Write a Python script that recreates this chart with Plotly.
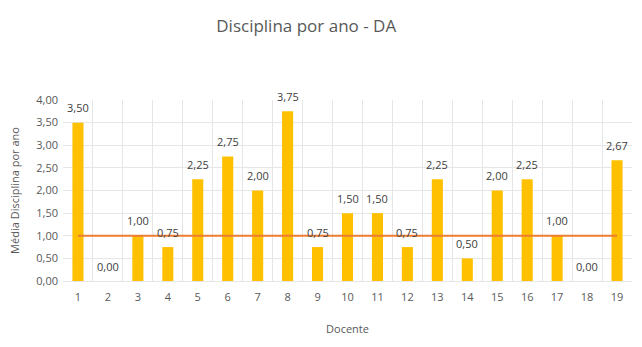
import plotly.graph_objects as go

docentes = list(range(1, 20))
valores = [3.50, 0.00, 1.00, 0.75, 2.25, 2.75, 2.00, 3.75, 0.75, 1.50,
           1.50, 0.75, 2.25, 0.50, 2.00, 2.25, 1.00, 0.00, 2.67]
referencia = [1.0] * len(docentes)

font_fam = "Open Sans, Liberation Sans, sans-serif"

fig = go.Figure()
fig.add_trace(go.Bar(
    x=docentes, y=valores, width=0.37,
    marker=dict(color="#FFC000", line=dict(width=0)),
    showlegend=False,
))
fig.add_trace(go.Scatter(
    x=docentes, y=referencia, mode="lines",
    line=dict(color="#ED7D31", width=2), showlegend=False,
))

for d, v in zip(docentes, valores):
    fig.add_annotation(
        x=d, y=v, text=f"{v:.2f}".replace(".", ","), showarrow=False,
        xanchor="center", yanchor="middle", yshift=15,
        font=dict(size=11, color="#404040", family=font_fam),
    )

fig.update_layout(
    width=642, height=347,
    margin=dict(l=63, r=10, t=100, b=66),
    paper_bgcolor="white", plot_bgcolor="white",
    separators=",.",
    font=dict(family=font_fam, color="#595959", size=11),
    title=dict(text="Disciplina por ano - DA", x=0.477, xanchor="center",
               y=0.925, yanchor="middle",
               font=dict(size=17, color="#595959", family=font_fam)),
    bargap=0.63,
)
fig.update_xaxes(
    range=[0.5, 19.5], tickmode="array", tickvals=docentes,
    ticktext=[str(d) for d in docentes], showgrid=False,
    minor=dict(tick0=0.5, dtick=1, showgrid=True, gridcolor="#E6E6E6", gridwidth=1),
    zeroline=False, showline=True, linecolor="#E6E6E6",
    ticklabelstandoff=6,
    title=dict(text="Docente", standoff=22, font=dict(size=11, color="#595959")),
    tickfont=dict(size=11, color="#595959"),
)
fig.update_yaxes(
    range=[0, 4], dtick=0.5, tickformat=".2f",
    showgrid=True, gridcolor="#E6E6E6", gridwidth=1,
    zeroline=False, showline=False,
    ticklabelstandoff=4,
    title=dict(text="Média Disciplina por ano", standoff=14, font=dict(size=11, color="#595959")),
    tickfont=dict(size=11, color="#595959"),
)

fig.write_html("out.html")
